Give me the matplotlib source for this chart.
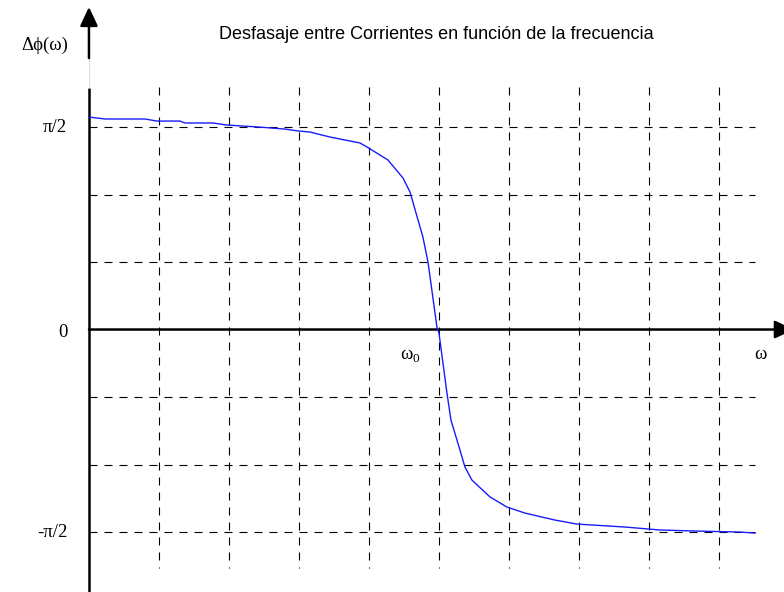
import numpy as np
import matplotlib
matplotlib.use("Agg")
import matplotlib.pyplot as plt

# omega in arbitrary units (omega_0 = 5 grid divisions), phase in radians
omega = [0.0, 0.229, 0.8, 0.971, 1.3, 1.371, 1.771, 1.971, 2.414, 2.8, 2.986,
         3.157, 3.443, 3.871, 3.971, 4.271, 4.486, 4.586, 4.771, 4.843, 4.971,
         5.0, 5.114, 5.171, 5.3, 5.371, 5.471, 5.729, 5.971, 6.229, 6.657,
         6.971, 7.657, 8.157, 8.657, 9.3, 9.514]
dphi = [1.648, 1.633, 1.633, 1.617, 1.617, 1.602, 1.602, 1.586, 1.571, 1.555,
        1.540, 1.532, 1.493, 1.447, 1.416, 1.315, 1.175, 1.067, 0.717, 0.524,
        0.019, -0.027, -0.493, -0.702, -0.935, -1.067, -1.168, -1.299, -1.377,
        -1.424, -1.478, -1.509, -1.532, -1.555, -1.563, -1.571, -1.579]

x_grid = [1, 2, 3, 4, 5, 6, 7, 8, 9]
y_grid = [np.pi / 2, np.pi / 3, np.pi / 6, -np.pi / 6, -np.pi / 3, -np.pi / 2]
y_ticks = [np.pi / 2, 0, -np.pi / 2]
y_tick_labels = ["π/2", "0", "-π/2"]

title = "Desfasaje entre Corrientes en función de la frecuencia"

SERIF = ["Liberation Serif", "DejaVu Serif"]
SANS = ["Liberation Sans", "DejaVu Sans"]

fig = plt.figure(figsize=(7.84, 5.92), dpi=100)
ax = fig.add_axes([0, 0, 1, 1])
ax.set_xlim(-1.271, 9.929)
ax.set_ylim(-2.036, 2.556)
ax.axis("off")

# dashed grid (drawn top-down / left-right so dashes start at the edge)
for gx in x_grid:
    ax.plot([gx, gx], [1.880, -1.850], color="black", lw=0.8,
            dashes=(7.2, 6.3), zorder=1)
for gy in y_grid:
    ax.plot([0, 9.514], [gy, gy], color="black", lw=0.8,
            dashes=(7.2, 6.3), zorder=1)

# axes with arrows
arrow = dict(arrowstyle="-|>,head_length=1.15,head_width=0.54",
             mutation_scale=10, lw=1.8, color="black", shrinkA=0, shrinkB=0)
ax.plot([0, 0], [-2.1, 1.873], color="black", lw=1.8, zorder=3,
        solid_capstyle="butt")
ax.plot([0, 0], [1.873, 2.106], color="#cccccc", lw=0.5, zorder=3)
ax.annotate("", xy=(0, 2.502), xytext=(0, 2.106), arrowprops=arrow,
            annotation_clip=False, zorder=3)
ax.annotate("", xy=(10.07, 0), xytext=(0, 0), arrowprops=arrow,
            annotation_clip=False, zorder=3)

# curve
ax.plot(omega, dphi, color="#1a1aff", lw=1.0, zorder=4)

# labels
for val, lab in zip(y_ticks, y_tick_labels):
    ax.text(-0.31, val - (0.02 if val == 0 else 0), lab, ha="right",
            va="center", fontsize=13.5, family=SERIF)
ax.text(-0.3, 2.207, "Δϕ(ω)", ha="right", va="center", fontsize=13.5,
        family=SERIF)
ax.text(4.44, -0.19, "ω", ha="left", va="center", fontsize=13.5,
        family=SERIF)
ax.text(4.62, -0.225, "0", ha="left", va="center", fontsize=9.5,
        family=SERIF)
ax.text(9.586, -0.19, "ω", ha="center", va="center", fontsize=13.5,
        family=SERIF)
ax.text(4.957, 2.29, title, ha="center", va="center", fontsize=13,
        family=SANS)

fig.savefig("out.png", dpi=100)
